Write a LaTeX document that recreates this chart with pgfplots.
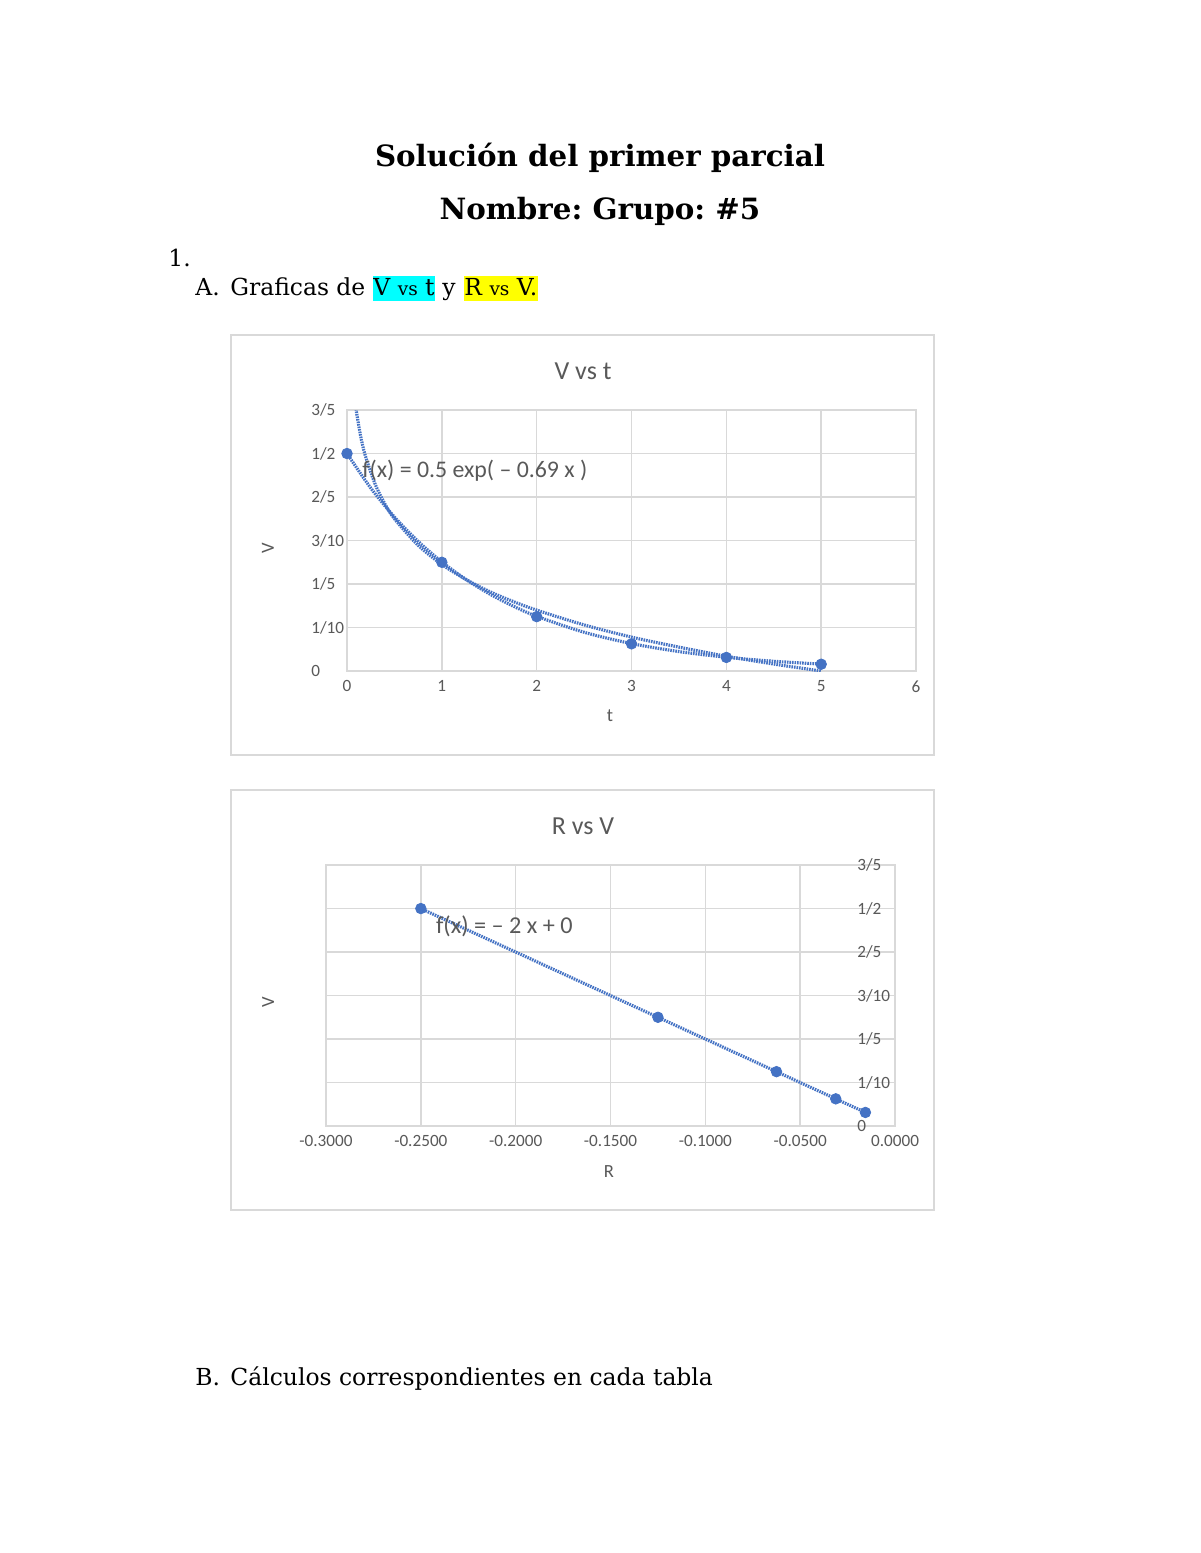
\documentclass[border=0pt]{standalone}
\usepackage{pgfplots}
\pgfplotsset{compat=1.18}
\usepackage{fontspec}
\setmainfont{DejaVu Serif}
\newfontfamily\chartfont{Carlito}
\frenchspacing
\definecolor{xblue}{HTML}{4472C4}
\definecolor{xgray}{HTML}{595959}
\definecolor{xgrid}{HTML}{D9D9D9}
\definecolor{hlcyan}{HTML}{00FFFF}
\definecolor{hlyellow}{HTML}{FFFF00}
\pgfplotsset{
  xlchart/.style={
    scale only axis, width=290.2bp, height=133.1bp,
    ymin=0, ymax=0.6,
    ytick={0,0.1,0.2,0.3,0.4,0.5,0.6},
    yticklabels={0,1/10,1/5,3/10,2/5,1/2,3/5},
    /pgf/number format/assume math mode=true,
    grid=major, major grid style={draw=xgrid, line width=0.8bp},
    axis line style={draw=xgrid, line width=0.8bp},
    major tick length=0pt, tick style={draw=none},
    ticklabel style={font=\chartfont\fontsize{8.8}{10}\selectfont, text=xgray},
    xticklabel style={inner sep=0pt, anchor=north, yshift=-4.6bp},
    label style={font=\chartfont\fontsize{9.5}{11}\selectfont, text=xgray},
    clip=true,
  },
  trend/.style={xblue, line width=1.6bp, dash pattern=on 0.8bp off 0.5bp, no marks},
  pts/.style={only marks, mark=*, mark size=2.7bp, mark options={fill=xblue, draw=xblue}},
}
\begin{document}
\begin{tikzpicture}[x=0.51bp,y=-0.51bp]
\fill[white] (0,0) rectangle (1200,1553);
\useasboundingbox (0,0) rectangle (1200,1553);

% page text
\node[anchor=base, inner sep=0pt, font=\bfseries\fontsize{15}{18}\selectfont] at (600,167) {Solución del primer parcial};
\node[anchor=base, inner sep=0pt, font=\bfseries\fontsize{15}{18}\selectfont] at (600,220) {Nombre: Grupo: \#5};
\node[anchor=base west, inner sep=0pt, font=\fontsize{12}{14}\selectfont] at (168,267) {1.};
\node[anchor=base west, inner sep=0pt, font=\fontsize{12}{14}\selectfont] at (195,296) {A.};
\fill[hlcyan] (373,276) rectangle (435,301);
\fill[hlyellow] (464,276) rectangle (538,301);
\node[anchor=base west, inner sep=0pt, font=\fontsize{12}{14}\selectfont] at (230,296) {Graficas de};
\node[anchor=base west, inner sep=0pt, font=\fontsize{12}{14}\selectfont] at (373,296) {V {\fontsize{9.5}{11}\selectfont vs} t};
\node[anchor=base west, inner sep=0pt, font=\fontsize{12}{14}\selectfont] at (442,296) {y};
\node[anchor=base west, inner sep=0pt, font=\fontsize{12}{14}\selectfont] at (464,296) {R {\fontsize{9.5}{11}\selectfont vs} V.};
\node[anchor=base west, inner sep=0pt, font=\fontsize{12}{14}\selectfont] at (195,1385) {B.};
\node[anchor=base west, inner sep=0pt, font=\fontsize{12}{14}\selectfont] at (230,1385) {Cálculos correspondientes en cada tabla};

% chart frames
\draw[xgrid, line width=0.8bp] (231,335) rectangle (934,755);
\draw[xgrid, line width=0.8bp] (231,790) rectangle (934,1210);

% chart titles
\node[font=\chartfont\fontsize{13.3}{15}\selectfont, text=xgray] at (583,371) {V vs t};
\node[font=\chartfont\fontsize{13.3}{15}\selectfont, text=xgray] at (583,826) {R vs V};

% ---------- Chart 1: V vs t ----------
\begin{axis}[xlchart, at={(176.97bp,-342.21bp)}, anchor=south west,
  xmin=0, xmax=6, xtick={0,1,2,3,4,5,6},
  yticklabel style={anchor=west, inner sep=0pt, xshift=-18.4bp},
  xlabel={t}, ylabel={V},
  xlabel style={at={(axis description cs:0.462,0)}, anchor=center, yshift=-23bp},
  ylabel style={at={(axis description cs:-0.1388,0.471)}, anchor=center},
]
% logarithmic-looking trend curve
\addplot[trend, smooth] coordinates {
(0.085,0.620) (0.1,0.595) (0.15,0.533) (0.2,0.490) (0.3,0.428) (0.4,0.384)
(0.5,0.350) (0.75,0.289) (1,0.245) (1.25,0.211) (1.5,0.183) (1.75,0.160)
(2,0.140) (2.5,0.106) (3,0.078) (3.5,0.055) (4,0.034) (4.5,0.016) (5,0.000)};
% exponential trend f(x)=0.5 exp(-0.69x)
\addplot[trend, smooth] coordinates {
(0,0.5) (0.25,0.4208) (0.5,0.3541) (0.75,0.2980) (1,0.2508) (1.25,0.2111)
(1.5,0.1776) (1.75,0.1495) (2,0.1258) (2.5,0.0891) (3,0.0631) (3.5,0.0447)
(4,0.0317) (4.5,0.0224) (5,0.0159)};
\addplot[pts] coordinates {
(0,0.5) (1,0.25) (2,0.125) (3,0.0625) (4,0.03125) (5,0.015625)};
\node[anchor=west, inner sep=0pt, font=\chartfont\fontsize{12.2}{14}\selectfont, text=xgray]
  at (axis cs:0.158,0.46) {f(x) = 0.5 exp( – 0.69 x )};
\end{axis}

% ---------- Chart 2: R vs V ----------
\begin{axis}[xlchart, at={(166.26bp,-574.26bp)}, anchor=south west,
  xmin=-0.3, xmax=0,
  xtick={-0.3,-0.25,-0.2,-0.15,-0.1,-0.05,0},
  xticklabels={-0.3000,-0.2500,-0.2000,-0.1500,-0.1000,-0.0500,0.0000},
  yticklabel pos=right,
  yticklabel style={anchor=west, inner sep=0pt, xshift=-19.4bp},
  xlabel={R}, ylabel={V},
  xlabel style={at={(axis description cs:0.497,0)}, anchor=center, yshift=-23bp},
  ylabel style={at={(axis description cs:-0.1016,0.475)}, anchor=center, rotate=0},
]
\addplot[trend] coordinates {(-0.25,0.5) (-0.015625,0.03125)};
\addplot[pts] coordinates {
(-0.25,0.5) (-0.125,0.25) (-0.0625,0.125) (-0.03125,0.0625) (-0.015625,0.03125)};
\node[anchor=west, inner sep=0pt, font=\chartfont\fontsize{12.4}{14}\selectfont, text=xgray]
  at (axis cs:-0.2422,0.46) {f(x) = – 2 x + 0};
\end{axis}
\end{tikzpicture}
\end{document}
